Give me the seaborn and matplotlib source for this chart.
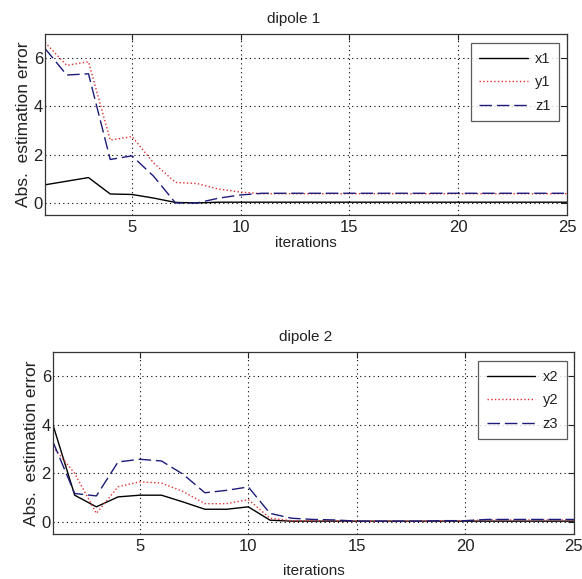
import matplotlib
matplotlib.use("Agg")
import matplotlib.pyplot as plt
import seaborn as sns
import pandas as pd

iters = list(range(1, 26))

# dipole 1
x1 = [0.75, 0.9, 1.05, 0.37, 0.35, 0.2, 0.02, 0.0, 0.03, 0.03, 0.03, 0.03, 0.03,
      0.03, 0.03, 0.03, 0.03, 0.03, 0.03, 0.03, 0.03, 0.03, 0.03, 0.03, 0.03]
y1 = [6.65, 5.7, 5.85, 2.6, 2.75, 1.65, 0.85, 0.8, 0.57, 0.45, 0.38, 0.38, 0.38,
      0.38, 0.38, 0.38, 0.38, 0.38, 0.38, 0.38, 0.38, 0.38, 0.38, 0.38, 0.38]
z1 = [6.4, 5.3, 5.35, 1.8, 1.95, 1.1, 0.0, 0.0, 0.2, 0.33, 0.4, 0.4, 0.4,
      0.4, 0.4, 0.4, 0.4, 0.4, 0.4, 0.4, 0.4, 0.4, 0.4, 0.4, 0.4]

# dipole 2
x2 = [4.0, 1.1, 0.62, 1.03, 1.1, 1.1, 0.82, 0.52, 0.52, 0.62, 0.07, 0.03, 0.03,
      0.03, 0.03, 0.03, 0.03, 0.03, 0.03, 0.03, 0.03, 0.03, 0.03, 0.03, 0.03]
y2 = [3.1, 2.0, 0.35, 1.45, 1.65, 1.6, 1.25, 0.75, 0.75, 0.92, 0.15, 0.05, 0.05,
      0.05, 0.03, 0.03, 0.03, 0.03, 0.05, 0.05, 0.08, 0.08, 0.08, 0.08, 0.08]
z3 = [3.3, 1.17, 1.07, 2.47, 2.58, 2.51, 1.96, 1.2, 1.3, 1.44, 0.35, 0.15, 0.1,
      0.08, 0.03, 0.03, 0.03, 0.03, 0.05, 0.05, 0.1, 0.1, 0.1, 0.1, 0.1]

xticks = [5, 10, 15, 20, 25]
yticks = [0, 2, 4, 6]

sns.set_style("white")
plt.rcParams["font.family"] = ["Liberation Sans", "DejaVu Sans"]
plt.rcParams["font.size"] = 11

fig = plt.figure(figsize=(5.82, 5.79), dpi=100)
ax1 = fig.add_axes([0.0773, 0.6287, 0.9742 - 0.0773, 0.9413 - 0.6287])
ax2 = fig.add_axes([0.091, 0.0777, 0.986 - 0.091, 0.392 - 0.0777])

blue = "#1c1c7a"
red = "#e03030"
textc = "#222222"

def draw(ax, title, series, labels, title_x, leg_anchor, xlabelpad):
    styles = [("black", "-"), (red, ":"), (blue, (0, (9, 3.5)))]
    for vals, lab, (c, ls) in zip(series, labels, styles):
        df = pd.DataFrame({"iter": iters, "err": vals})
        sns.lineplot(data=df, x="iter", y="err", ax=ax, color=c, linestyle=ls,
                     linewidth=1.0, label=lab)
    ax.set_xlim(1, 25)
    ax.set_ylim(-0.5, 7)
    ax.set_xticks(xticks)
    ax.set_yticks(yticks)
    ax.grid(True, color="black", linestyle=(0, (1, 3)), linewidth=0.8)
    ax.tick_params(direction="in", top=True, right=True, length=4,
                   width=0.8, labelsize=12, colors=textc)
    ax.tick_params(axis="x", pad=3.5)
    ax.tick_params(axis="y", pad=1.5)
    for s in ax.spines.values():
        s.set_color("#333333")
        s.set_linewidth(0.9)
    ax.set_title(title, fontsize=11, pad=8, x=title_x, color=textc)
    ax.set_xlabel("iterations", fontsize=11, labelpad=xlabelpad, color=textc)
    ax.set_ylabel("Abs.  estimation error", fontsize=12.5, labelpad=2,
                  color=textc)
    leg = ax.legend(loc="upper right", frameon=True, fancybox=False,
                    edgecolor="#333333", handlelength=3.3, handletextpad=0.5,
                    fontsize=10.5, borderpad=0.6, labelspacing=0.65,
                    borderaxespad=0, bbox_to_anchor=leg_anchor)
    leg.get_frame().set_linewidth(0.9)
    for t in leg.get_texts():
        t.set_color(textc)

draw(ax1, "dipole 1", [x1, y1, z1], ["x1", "y1", "z1"], 0.477, (0.985, 0.950), 1)
draw(ax2, "dipole 2", [x2, y2, z3], ["x2", "y2", "z3"], 0.486, (0.9866, 0.951), 7)

fig.savefig("out.png", dpi=100)
